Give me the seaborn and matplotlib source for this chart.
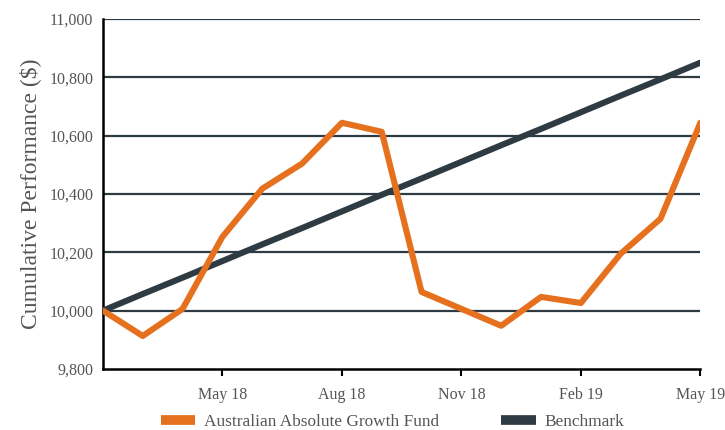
import matplotlib
matplotlib.use('Agg')
import matplotlib.pyplot as plt
import matplotlib.ticker as mticker
import pandas as pd
import seaborn as sns

# Monatswerte Feb 18 - May 19
months = ['2018-02-01', '2018-03-01', '2018-04-01', '2018-05-01', '2018-06-01', '2018-07-01',
          '2018-08-01', '2018-09-01', '2018-10-01', '2018-11-01', '2018-12-01', '2019-01-01',
          '2019-02-01', '2019-03-01', '2019-04-01', '2019-05-01']
fund = [10000, 9913, 10006, 10253, 10418, 10504, 10644, 10613,
        10064, 10006, 9948, 10047, 10026, 10195, 10315, 10644]
benchmark = [10000, 10057, 10113, 10170, 10227, 10283, 10340, 10397,
             10453, 10510, 10567, 10623, 10680, 10737, 10793, 10850]
fund_name = 'Australian Absolute Growth Fund'
bench_name = 'Benchmark'
tick_labels = ['May 18', 'Aug 18', 'Nov 18', 'Feb 19', 'May 19']
y_ticks = [9800, 10000, 10200, 10400, 10600, 10800, 11000]

orange = '#E5711F'
dark = '#2F3B42'
text_col = '#555555'

# gleichmäßiger Monatsabstand -> Index statt Datum
df = pd.DataFrame({
    'Monat': list(range(len(months))) * 2,
    'Wert': fund + benchmark,
    'Serie': [fund_name] * len(fund) + [bench_name] * len(benchmark)
})
tick_pos = [months.index(m) for m in ['2018-05-01', '2018-08-01', '2018-11-01', '2019-02-01', '2019-05-01']]

sns.set_theme(style='white')
plt.rcParams['font.family'] = ['Liberation Serif', 'DejaVu Serif']

fig = plt.figure(figsize=(7.25, 4.3), dpi=100)
ax = fig.add_axes([0.142, 0.142, 0.824, 0.814])

# Gitterlinien
for y in y_ticks[1:]:
    ax.axhline(y, color=dark, lw=1.6, zorder=1)

sns.lineplot(data=df, x='Monat', y='Wert', hue='Serie', hue_order=[bench_name, fund_name],
             palette={fund_name: orange, bench_name: dark}, lw=4.4, ax=ax, legend=False,
             zorder=3)
for line in ax.lines[-2:]:
    line.set_solid_capstyle('round')

ax.set_xlim(0, len(months) - 1)
ax.set_ylim(9800, 11000)
ax.set_yticks(y_ticks)
ax.yaxis.set_major_formatter(mticker.FuncFormatter(lambda v, p: f'{v:,.0f}'))
ax.set_xticks(tick_pos)
ax.set_xticklabels(tick_labels)

ax.tick_params(axis='y', length=0, pad=7, labelsize=11.5, labelcolor=text_col)
ax.tick_params(axis='x', length=5, width=1.5, color='black', pad=8, labelsize=11.5,
               labelcolor=text_col, bottom=True)

for side in ['top', 'right']:
    ax.spines[side].set_visible(False)
for side in ['left', 'bottom']:
    ax.spines[side].set_color('black')
    ax.spines[side].set_linewidth(1.8)

ax.set_xlabel('')
ax.set_ylabel('Cumulative Performance ($)', fontsize=17, color=text_col, labelpad=6)

handles = [plt.Line2D([], [], color=orange, lw=7, solid_capstyle='butt'),
           plt.Line2D([], [], color=dark, lw=7, solid_capstyle='butt')]
fig.legend(handles, [fund_name, bench_name], loc='center left', bbox_to_anchor=(0.222, 0.018),
           ncol=2, frameon=False, fontsize=12.4, labelcolor=text_col, handlelength=2.0,
           handletextpad=0.5, columnspacing=3.6, borderpad=0, borderaxespad=0)

fig.savefig('out.png', dpi=100)
